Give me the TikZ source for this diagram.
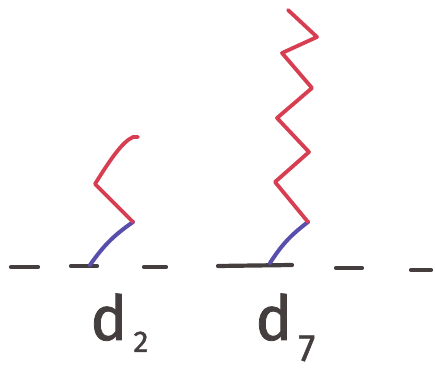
\documentclass[tikz,border=0pt]{standalone}
\usepackage{fontspec}
\setmainfont{Fira Sans}
\newfontfamily\handfont{Fira Sans}[FakeBold=1.3]
\usepackage{xcolor}
\usepackage{tikz}
\usetikzlibrary{calc}
\definecolor{inkblack}{RGB}{68,62,62}
\definecolor{inkblue}{RGB}{88,78,172}
\definecolor{inkred}{RGB}{216,62,82}
\tikzset{
    ground/.style={draw=inkblack, line width=2.1pt, line cap=round},
    bond/.style={draw=inkblue, line width=2pt, line cap=round},
    chain/.style={draw=inkred, line width=1.9pt, line cap=round, line join=round},
    site/.style={inner sep=0pt, text=inkblack, anchor=base west, font=\handfont},
}
\newcommand{\dlab}[3]{{\fontsize{31}{31}\selectfont d}\hspace{3pt}\raisebox{-#3}{\fontsize{#2}{#2}\selectfont #1}}

\begin{document}
\begin{tikzpicture}[x=0.5pt, y=-0.5pt]
\useasboundingbox (0,0) rectangle (435,369);

% Baseline dashes
\draw[ground] (11,267) -- (38,267);
\draw[ground] (71,266) -- (97,266);
\draw[ground] (144,267) -- (166,267);
\draw[ground] (218,266) -- (292,265);
\draw[ground] (336,268) -- (362,268);
\draw[ground] (411,270) -- (431,270);

% Site d2
\coordinate (foot2) at (90,265);
\coordinate (knee2) at (133,222);
\draw[bond] (foot2) to[bend left=10] (knee2);
\draw[chain] (knee2) -- (95,184) .. controls (110,160) and (122,142) .. (133,137) -- (138,137);

% Site d7
\coordinate (foot7) at (270,263);
\coordinate (knee7) at (308,222);
\draw[bond] (foot7) to[bend left=10] (knee7);
\draw[chain] (knee7) -- (275,182) -- (309,152) -- (277,118) -- (312,88)
    -- (282,53) -- (317,37) -- (288,10);

% Labels
\node[site] (lab2) at (90,340) {\dlab{2}{15}{6pt}};
\node[site] (lab7) at (255,340) {\dlab{7}{19}{10.5pt}};

\end{tikzpicture}
\end{document}
